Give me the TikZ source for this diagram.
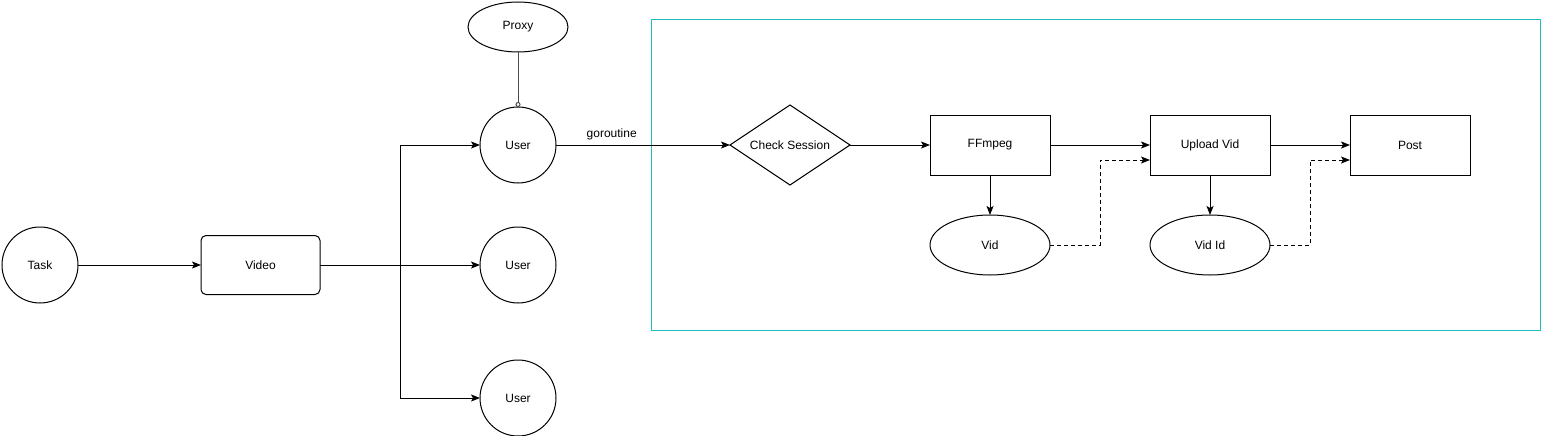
\documentclass[tikz,border=0pt]{standalone}
\usepackage{fontspec}
\setmainfont{Liberation Sans}
\usetikzlibrary{positioning,shapes.geometric,arrows.meta}
\definecolor{mycyan}{RGB}{33,189,189}
\begin{document}
\begin{tikzpicture}[x=1pt,y=-1pt,inner sep=0pt,outer sep=0pt,font=\fontsize{12}{14}\selectfont]
\tikzstyle{main}=[circle, minimum size = 76pt, line width=1pt, draw=black]
\tikzstyle{box}=[rectangle, minimum width=120pt, minimum height=60pt, line width=1pt, draw=black]
\tikzstyle{oval}=[ellipse, minimum width=120pt, minimum height=60pt, line width=1pt, draw=black]
\tikzstyle{decide}=[diamond, aspect=1.5, minimum width=120pt, minimum height=80pt, line width=1pt, draw=black]
\tikzstyle{connect}=[-{Stealth[length=9pt,width=7pt,inset=2pt]}, line width=1pt]
\tikzstyle{dashconnect}=[connect, dashed, dash pattern=on 4pt off 3pt]
\tikzstyle{holder}=[-{Circle[open,length=5pt,width=5pt]}, line width=1pt, draw=black!70]
\useasboundingbox (0,0) rectangle (1541,436);
\draw[mycyan, line width=1pt] (651,20) rectangle (1540,330);
\node[main] (task) at (40,265) {Task};
\node[box, rounded corners=5pt, minimum width=119pt, minimum height=59pt] (video) [right=123pt of task] {Video};
\node[main] (user2) [right=160pt of video] {User};
\node[main] (user1) [above=44pt of user2] {User};
\node[main] (user3) [below=57pt of user2] {User};
\node[oval, minimum width=100pt, minimum height=50pt] (proxy) [above=55pt of user1] {Proxy};
\node[decide] (check) [right=174pt of user1] {Check Session};
\node[box] (ffmpeg) [right=80pt of check] {FFmpeg};
\node[box] (upload) [right=100pt of ffmpeg] {Upload Vid};
\node[box] (post) [right=80pt of upload] {Post};
\node[oval] (vid) [below=40pt of ffmpeg] {Vid};
\node[oval] (vidid) [below=40pt of upload] {Vid Id};
\coordinate[right=80pt of video] (split);
\path (task) edge[connect] (video);
\path (video) edge[connect] (user2);
\draw[connect] (split) |- (user1);
\draw[connect] (split) |- (user3);
\draw[holder] (proxy) -- (user1);
\path (user1) edge[connect] node[above=5pt, pos=0.32] {goroutine} (check);
\path (check) edge[connect] (ffmpeg);
\path (ffmpeg) edge[connect] (upload) edge[connect] (vid);
\path (upload) edge[connect] (post) edge[connect] (vidid);
\draw[dashconnect] (vid.east) -- ++(50pt,0) |- ([yshift=-15pt]upload.west);
\draw[dashconnect] (vidid.east) -- ++(40pt,0) |- ([yshift=-15pt]post.west);
\end{tikzpicture}
\end{document}
